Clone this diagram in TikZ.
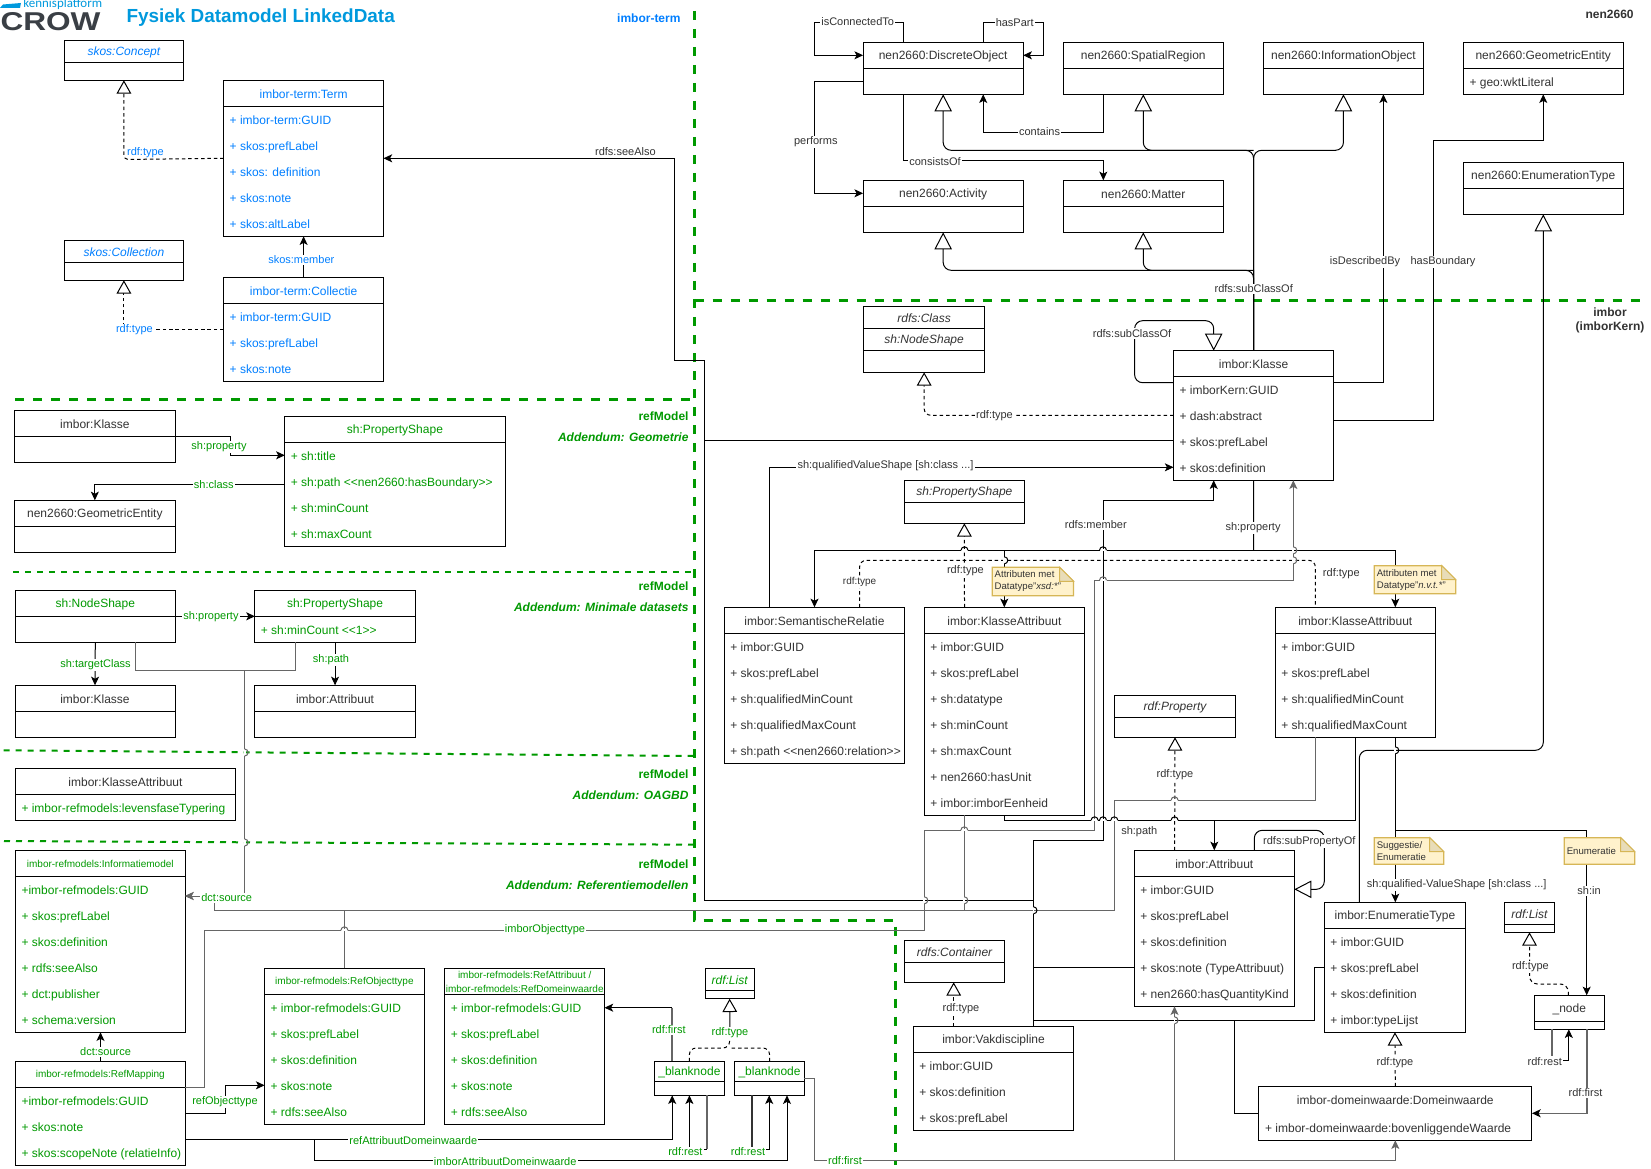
\documentclass[tikz,border=0pt]{standalone}
\usepackage{fontspec}
\usepackage{graphicx}
\setmainfont{Liberation Sans}
\newfontfamily\logofont{Carlito}
\usetikzlibrary{arrows.meta}
\definecolor{tekst}{HTML}{333333}
\definecolor{termblauw}{HTML}{007FFF}
\definecolor{titelblauw}{HTML}{0099DD}
\definecolor{groenkleur}{HTML}{009900}
\definecolor{grijs}{HTML}{666666}
\definecolor{logogrijs}{HTML}{3A3F45}
\definecolor{notevul}{HTML}{FFF2CC}
\definecolor{noterand}{HTML}{D6B656}
\definecolor{notevouw}{HTML}{E8DCB8}
\newcommand{\kleinref}{\fontsize{7.5pt}{9pt}\selectfont}
\tikzset{
  umlbox/.style={draw=black, fill=white, line width=0.75pt, inner sep=0pt, outer sep=0pt},
  kop/.style={font=\fontsize{9pt}{11pt}\selectfont, align=center, inner sep=0pt, yshift=-0.5pt},
  rij/.style={font=\fontsize{9pt}{11pt}\selectfont, anchor=west, inner sep=0pt, text height=7pt, text depth=2pt, yshift=-1.1pt},
  zwart/.style={text=tekst},
  blauw/.style={text=termblauw},
  groen/.style={text=groenkleur},
  lab/.style={font=\fontsize{8.25pt}{10pt}\selectfont, fill=white, inner sep=0.8pt, text=tekst, yshift=-0.3pt},
  labblauw/.style={lab, text=termblauw},
  labgroen/.style={lab, text=groenkleur},
  regio/.style={font=\fontsize{9pt}{11pt}\selectfont\bfseries, text=groenkleur, anchor=east, inner sep=0pt, yshift=-0.7pt},
  pijl/.style={-{Stealth[length=6.5pt,width=6pt,inset=1.6pt]}},
  pijlzwart/.style={-{Stealth[length=6.5pt,width=6pt,inset=1.6pt,color=black]}},
  erf/.style={-{Triangle[open,length=12.75pt,width=13pt,fill=white]}},
  erfk/.style={-{Triangle[open,length=10pt,width=11pt,fill=white]}},
  stip/.style={dashed, dash pattern=on 2.6pt off 2.2pt},
  grijslijn/.style={draw=grijs},
  grijsdik/.style={draw=grijs, line width=1.2pt},
  scheiding/.style={draw=groenkleur, line width=2.25pt, dash pattern=on 6.75pt off 6.75pt},
  scheidingdun/.style={draw=groenkleur, line width=1.5pt, dash pattern=on 4.5pt off 4.5pt}
}
% box met kop en rijen: stijl, naam, x1, y1, x2, y2, kopregel, titel, rijen
\newcommand{\klasse}[9][zwart]{%
  \pgfmathsetmacro{\cx}{(#3+#5)/2}%
  \pgfmathsetmacro{\cy}{(#4+#6)/2}%
  \pgfmathsetmacro{\ty}{(#4+#7)/2}%
  \node[umlbox, minimum width={(#5-#3)*0.75pt}, minimum height={(#6-#4)*0.75pt}] (#2) at (\cx,\cy) {};
  \draw (#2.west |- 0,#7) -- (#2.east |- 0,#7);
  \node[kop,#1] (#2-kop) at (\cx,\ty) {#8};
  \def\rijen{#9}\ifx\rijen\empty\else
  \foreach \rt [count=\ri] in {#9} {
    \pgfmathsetmacro{\ry}{#7+13+26*(\ri-1)}
    \node[rij,#1] (#2-r\ri) at (#3+5.5,\ry) {\rt};
  }\fi
}
% notitie met omgevouwen hoek
\newcommand{\notitie}[6]{%
  \draw[fill=notevul, draw=noterand, line width=0.9pt] (#2,#3) -- (#4-14,#3) -- (#4,#3+14) -- (#4,#5) -- (#2,#5) -- cycle;
  \draw[fill=notevouw, draw=noterand, line width=0.75pt] (#4-14,#3) -- (#4-14,#3+14) -- (#4,#3+14) -- cycle;
  \node[font=\fontsize{7.2pt}{9pt}\selectfont, text=tekst, align=left, anchor=west, inner sep=0pt] (#1) at (#2+2,{(#3+#5)/2}) {#6};
}
% sprongetjes over kruisende lijnen
\newcommand{\hoph}[3][black]{%
  \draw[white, line width=1.4pt] (#2-3.5,#3) -- (#2+3.5,#3);
  \draw[#1] (#2-3.5,#3) arc[start angle=180, end angle=360, radius=3.5];
}
\newcommand{\hopv}[3][black]{%
  \draw[white, line width=1.4pt] (#2,#3-3.5) -- (#2,#3+3.5);
  \draw[#1] (#2,#3-3.5) arc[start angle=-90, end angle=90, radius=3.5];
}
\begin{document}
\begin{tikzpicture}[x=0.75pt, y=-0.75pt, line width=0.75pt]
  \useasboundingbox[fill=white] (0,0) rectangle (1651,1169);

  % logo en titel
  \fill[titelblauw] (0,8) -- (3,4.5) -- (21,3) -- (20,8) -- cycle;
  \node[font=\logofont\fontsize{9.7pt}{10pt}\selectfont, text=titelblauw, inner sep=0pt, anchor=west] (logotekst) at (23,4.5) {kennisplatform};
  \node[text=logogrijs, inner sep=0pt, anchor=west] (logo) at (0,21.5) {\resizebox{100\dimexpr0.75pt\relax}{18\dimexpr0.75pt\relax}{\bfseries CROW}};
  \node[font=\fontsize{14.2pt}{16pt}\selectfont\bfseries, text=titelblauw, anchor=west, inner sep=0pt] (titel) at (126,17.5) {Fysiek Datamodel LinkedData};

  % groene scheidingen
  \draw[scheiding] (694.6,11) -- (694.6,920) -- (895,920) -- (895,1165);
  \draw[scheiding] (15,399) -- (694.6,399);
  \draw[scheiding] (694.6,300.3) -- (1645,300.3);
  \draw[scheidingdun] (13.4,572.3) -- (694.6,572.3);
  \draw[scheidingdun] (3.6,750.3) -- (694.6,756);
  \draw[scheidingdun] (4,841) -- (694.6,844.7);

  % imbor-term
  \klasse[blauw]{concept}{64.3}{40.3}{183.5}{80.3}{62.3}{\itshape skos:Concept}{}
  \klasse[blauw]{term}{223.7}{80.3}{383.5}{236.3}{106.3}{imbor-term:Term}{+ imbor-term:GUID, + skos:prefLabel, + skos: definition, + skos:note, + skos:altLabel}
  \klasse[blauw]{collection}{64.3}{240.3}{183.5}{280.3}{262.3}{\itshape skos:Collection}{}
  \klasse[blauw]{collectie}{223.7}{277.3}{383.5}{381.3}{303.3}{imbor-term:Collectie}{+ imbor-term:GUID, + skos:prefLabel, + skos:note}

  % addendum geometrie
  \klasse{klasseg}{14.7}{410.7}{175}{462.3}{436.3}{imbor:Klasse}{}
  \klasse[groen]{propg}{284.8}{416.3}{505}{546.3}{442.3}{sh:PropertyShape}{+ sh:title, + sh:path <{}<nen2660:hasBoundary>{}>, + sh:minCount, + sh:maxCount}
  \klasse{geog}{14.7}{500.3}{175}{552.3}{526.3}{nen2660:GeometricEntity}{}

  % addendum minimale datasets
  \klasse[groen]{nodem}{15.6}{590.3}{175}{642.3}{616.3}{sh:NodeShape}{}
  \klasse[groen]{propm}{254.9}{590.3}{415.2}{642.3}{616.3}{sh:PropertyShape}{+ sh:minCount <{}<1>{}>}
  \klasse{klassem}{15}{685.3}{175}{737.3}{711.3}{imbor:Klasse}{}
  \klasse{attrm}{254.9}{685.3}{415.2}{737.3}{711.3}{imbor:Attribuut}{}

  % addendum OAGBD
  \klasse[groen]{klasseo}{15.5}{768.3}{235.4}{820.3}{794.3}{\textcolor{tekst}{imbor:KlasseAttribuut}}{+ imbor-refmodels:levensfaseTypering}

  % addendum referentiemodellen
  \klasse[groen]{infomodel}{15.5}{850.3}{185}{1032.3}{876.3}{\kleinref imbor-refmodels:Informatiemodel}{+imbor-refmodels:GUID, + skos:prefLabel, + skos:definition, + rdfs:seeAlso, + dct:publisher, + schema:version}
  \klasse[groen]{mapping}{15.5}{1061.3}{185}{1165.3}{1087.3}{\kleinref imbor-refmodels:RefMapping}{+imbor-refmodels:GUID, + skos:note, + skos:scopeNote (relatieInfo)}
  \klasse[groen]{refobj}{264.6}{968.3}{424.2}{1124.3}{994.3}{\kleinref imbor-refmodels:RefObjecttype}{+ imbor-refmodels:GUID, + skos:prefLabel, + skos:definition, + skos:note, + rdfs:seeAlso}
  \klasse[groen]{refattr}{444.9}{968.3}{604.5}{1124.3}{994.3}{\kleinref imbor-refmodels:RefAttribuut /\\\kleinref imbor-refmodels:RefDomeinwaarde}{+ imbor-refmodels:GUID, + skos:prefLabel, + skos:definition, + skos:note, + rdfs:seeAlso}
  \klasse[groen]{listg}{705}{968.3}{754.3}{998.7}{990.3}{\itshape rdf:List}{}
  \klasse[groen]{blank1}{654.4}{1061.3}{724.4}{1095.3}{1081.7}{\_blanknode}{}
  \klasse[groen]{blank2}{734.8}{1061.3}{804.3}{1095.3}{1081.7}{\_blanknode}{}

  % nen2660
  \klasse{discr}{863.1}{42.3}{1023.2}{94.3}{68.3}{nen2660:DiscreteObject}{}
  \klasse{spatial}{1063.2}{42.3}{1223.3}{94.3}{68.3}{nen2660:SpatialRegion}{}
  \klasse{inform}{1263.4}{42.3}{1423.5}{94.3}{68.3}{nen2660:InformationObject}{}
  \klasse{geom}{1463.5}{42.3}{1623}{94.3}{68.3}{nen2660:GeometricEntity}{+ geo:wktLiteral}
  \klasse{enumtype}{1463.5}{162.3}{1623}{214.3}{188.3}{nen2660:EnumerationType}{}
  \klasse{activity}{863.1}{180.3}{1023.2}{232.3}{206.3}{nen2660:Activity}{}
  \klasse{matter}{1063.2}{180.3}{1223.3}{232.3}{206.3}{nen2660:Matter}{}

  % imborKern
  \klasse{rdfsclass}{863.7}{306.3}{984.6}{372.3}{328.3}{\itshape rdfs:Class}{}
  \draw (rdfsclass.west |- 0,350.3) -- (rdfsclass.east |- 0,350.3);
  \node[kop, zwart] (rdfsclass-kop2) at (924.1,339.3) {\itshape sh:NodeShape};
  \klasse{klasse}{1173.5}{350.7}{1333.7}{480.3}{376.3}{imbor:Klasse}{+ imborKern:GUID, + dash:abstract, + skos:prefLabel, + skos:definition}
  \klasse{propshape}{904.3}{480.3}{1024.4}{523.3}{502.3}{\itshape sh:PropertyShape}{}
  \klasse{semrel}{724.3}{607.3}{904.6}{763.3}{633.3}{imbor:SemantischeRelatie}{+ imbor:GUID, + skos:prefLabel, + sh:qualifiedMinCount, + sh:qualifiedMaxCount, + sh:path <{}<nen2660:relation>{}>}
  \klasse{ka}{924.3}{607.3}{1084.6}{815.3}{633.3}{imbor:KlasseAttribuut}{+ imbor:GUID, + skos:prefLabel, + sh:datatype, + sh:minCount, + sh:maxCount, + nen2660:hasUnit, + imbor:imborEenheid}
  \klasse{kb}{1275.3}{607.3}{1435.3}{737.3}{633.3}{imbor:KlasseAttribuut}{+ imbor:GUID, + skos:prefLabel, + sh:qualifiedMinCount, + sh:qualifiedMaxCount}
  \klasse{rdfprop}{1114.3}{695.3}{1235.7}{737.3}{717.3}{\itshape rdf:Property}{}
  \klasse{attr}{1134.3}{850.3}{1294.3}{1006.3}{876.3}{imbor:Attribuut}{+ imbor:GUID, + skos:prefLabel, + skos:definition, + skos:note (TypeAttribuut), + nen2660:hasQuantityKind}
  \klasse{enumt}{1324.4}{902.3}{1465.5}{1032.3}{928.3}{imbor:EnumeratieType}{+ imbor:GUID, + skos:prefLabel, + skos:definition, + imbor:typeLijst}
  \klasse{rdflist}{1504.4}{902.3}{1554.5}{932.3}{924.3}{\itshape rdf:List}{}
  \klasse{bnode}{1534.4}{995.3}{1604.2}{1029.3}{1021.3}{\_node}{}
  \klasse{container}{904.6}{940.3}{1004.4}{982.3}{962.3}{\itshape rdfs:Container}{}
  \klasse{vak}{913.4}{1026.3}{1073.7}{1130.3}{1052.3}{imbor:Vakdiscipline}{+ imbor:GUID, + skos:definition, + skos:prefLabel}
  % domeinwaarde heeft geen kopregel
  \node[umlbox, minimum width=205pt, minimum height=40.5pt] (domein) at (1395.3,1113.3) {};
  \node[kop, zwart] (domein-kop) at (1395.3,1099.7) {imbor-domeinwaarde:Domeinwaarde};
  \node[rij, zwart] (domein-r1) at (1264.6,1127.7) {+ imbor-domeinwaarde:bovenliggendeWaarde};

  % verbindingen imbor-term
  \draw[erfk, stip, rounded corners=3pt] (term.west |- 0,158.3) -- (124,159.5) -- (concept.south);
  \draw[erfk, stip] (collectie.west |- 0,329.3) -| (collection.south);
  \draw[pijl] (collectie.north) -- (term.south);
  \coordinate (busl) at (704.7,440.3);
  \coordinate (busb) at (1033.5,900.3);
  \draw[pijl] (busl) -- (704.7,360.3) -| (674.6,158.3) -- (term.east |- 0,158.3);
  \draw (klasse.west |- busl) -- (busl) |- (busb);

  % verbindingen geometrie en minimale datasets
  \draw[pijl] (klasseg.east |- 0,436.3) -| (230,455.3) -- (propg.west |- 0,455.3);
  \draw[pijl] (propg.west |- 0,484.3) -| (geog.north);
  \draw[pijl] (nodem.east |- 0,616.3) -- (propm.west |- 0,616.3);
  \draw[pijl] (nodem.south) -- (klassem.north);
  \draw[pijl] (propm.south) -- (attrm.north);
  \draw[grijslijn] (nodem.south -| 135.3,0) |- (295,670.3) -- (propm.south -| 295,0);
  \draw[grijslijn, pijl] (244.6,670.3) -- (244.6,896) -- (infomodel.east |- 0,896);

  % verbindingen referentiemodellen
  \draw[pijl] (mapping.north -| 100.5,0) -- (infomodel.south -| 100.5,0);
  \draw[pijl] (mapping.east |- 0,1113.3) -| (225,1085.3) -- (refobj.west |- 0,1085.3);
  \draw[pijl] (mapping.east |- 0,1139.3) -| (blank1.south -| 672.2,0);
  \draw[pijl] (314.6,1139.3) |- (787,1160.3) -- (blank2.south -| 787,0);
  \draw[grijsdik] (blank1.north -| 672.2,0) -- (672.2,1007.7);
  \draw[pijl] (672.2,1007.7) -- (refattr.east |- 0,1007.7);
  \draw[erfk] (730,1032) -- (listg.south -| 729.6,0);
  \draw[stip, rounded corners=5pt] (blank1.north) |- (729.6,1048) -- (729.6,1032);
  \draw[stip, rounded corners=5pt] (blank2.north) |- (729.6,1048);
  \draw[grijsdik] (blank1.south -| 706.7,0) -- (706.7,1149);
  \draw[pijl] (706.7,1149) -| (blank1.south -| 689.4,0);
  \draw[line width=1.2pt, draw=tekst] (blank2.south -| 752,0) -- (752,1149);
  \draw[pijl] (752,1149) -| (blank2.south -| 769.2,0);

  % verbindingen nen2660
  \draw[pijl] (discr.north -| 903.2,0) |- (814.6,22.7) |- (discr.west |- 0,55.3);
  \draw[pijl] (discr.north -| 983.2,0) |- (1043.2,22.7) |- (discr.east |- 0,55.3);
  \draw[pijl] (discr.west |- 0,81.3) -| (814.6,193.3) -- (activity.west |- 0,193.3);
  \draw[pijl] (spatial.south -| 1103.3,0) |- (983.2,132.3) -- (discr.south -| 983.2,0);
  \draw[pijl] (discr.south -| 903.2,0) |- (1103.3,160.3) -- (matter.north -| 1103.3,0);
  \draw (klasse.north) -- (1253.6,270);
  \draw[erf, rounded corners=6pt] (klasse.north) -- (1253.6,150.3) -| (discr.south);
  \draw[erf, rounded corners=6pt] (1253.6,150.3) -| (spatial.south);
  \draw[erf, rounded corners=6pt] (klasse.north) -- (1253.6,150.3) -| (inform.south);
  \draw[erf, rounded corners=6pt] (klasse.north) -- (1253.6,270.3) -| (activity.south);
  \draw[erf, rounded corners=6pt] (1253.6,270.3) -| (matter.south);
  \draw[pijl] (klasse.east |- 0,382.7) -| (inform.south -| 1383.4,0);
  \draw[pijl] (klasse.east |- 0,420.3) -| (1433.3,140.3) -| (geom.south);
  \draw[erf, rounded corners=6pt] (enumt.north -| 1359.3,0) |- (1543.3,750.3) -- (enumtype.south);

  % verbindingen imborKern
  \draw[erf, rounded corners=6pt] (klasse.west |- 0,382.7) -| (1134.6,320.7) -| (klasse.north -| 1213.7,0);
  \draw[erfk, stip, rounded corners=5pt] (klasse.west |- 0,415.3) -| (rdfsclass.south);
  \draw[pijl] (semrel.north -| 769.5,0) |- (klasse.west |- 0,467.3);
  \draw[pijl] (busb |- 0,1020.3) -- (1033.5,840.3) -- (1103,840.3) -- (1103,500.3) -| (klasse.south -| 1213.7,0);
  \draw (klasse.south) -- (1253.6,550.3);
  \draw[pijl] (1253.6,550.3) -| (semrel.north -| 814.5,0);
  \draw[pijl] (1004.3,550.3) -- (ka.north -| 1004.3,0);
  \draw[pijl] (1253.6,550.3) -| (kb.north -| 1395.3,0);
  \draw[erfk, stip] (ka.north -| 964.5,0) -- (propshape.south);
  \draw[stip, rounded corners=5pt] (semrel.north -| 859.6,0) |- (1315.3,560.3) -- (kb.north -| 1315.3,0);

  % grijze lijnen
  \draw[grijslijn, pijl] (mapping.east |- 0,1087.3) -| (204.4,930.3) -- (924.3,930.3) -- (924.3,830.3) -- (1094.6,830.3) -- (1094.6,580.3) -- (1293.3,580.3) -- (klasse.south -| 1293.3,0);
  \draw[grijslijn, pijl] (kb.south -| 1315.3,0) |- (1114.3,800.3) |- (214.7,910.3) -- (214.7,896) -- (infomodel.east |- 0,896);
  \draw[grijslijn] (ka.south -| 964.3,0) -- (964.3,910.3);
  \draw[grijslijn] (refobj.north) -- (344.4,910.3);
  \draw[grijslijn, pijl] (blank2.east |- 0,1078.3) -| (814.6,1160.3) -| (domein.south);
  \draw[grijslijn, pijl] (1174.5,1160.3) -- (attr.south -| 1174.5,0);

  % verbindingen attribuut
  \draw (ka.south) |- (1355.7,820.3) -- (kb.south -| 1355.7,0);
  \draw[pijl] (1214.3,820.3) -- (attr.north -| 1214.3,0);
  \draw[erfk, stip] (attr.north -| 1174.6,0) -- (rdfprop.south);
  \draw[erf, rounded corners=6pt] (attr.north -| 1254.3,0) |- (1324.3,830.3) |- (attr.east |- 0,889.3);
  \draw[pijl] (kb.south -| 1395.3,0) -- (enumt.north -| 1395.3,0);
  \draw[pijl] (1395.3,830.3) -| (bnode.north -| 1586.7,0);
  \draw (1033.5,967.3) -- (attr.west |- 0,967.3);
  \draw[line width=1.1pt] (1033.5,840.3) -- (1033.5,1020.3);
  \draw[line width=1.1pt] (1033.5,1020.3) -- (1100,1020.3);
  \draw (1100,1020.3) -| (1314.6,967.3) -- (enumt.west |- 0,967.3);
  \draw (1033.5,1020.3) -- (vak.north -| 1033.5,0);
  \draw (1234.5,1020.3) |- (domein.west |- 0,1113.3);
  \draw[erfk, stip] (vak.north -| 953.7,0) -- (container.south -| 953.7,0);
  \draw[erfk, stip] (domein.north) -- (enumt.south);
  \draw[erfk, stip, rounded corners=6pt] (bnode.north -| 1568.3,0) |- (1529.5,984) -- (rdflist.south -| 1529.5,0);
  \draw[grijsdik] (bnode.south -| 1552,0) -- (1552,1060.7);
  \draw[pijl] (1552,1060.7) -| (bnode.south -| 1568.8,0);
  \draw[grijsdik, pijlzwart] (bnode.south -| 1587,0) |- (domein.east |- 0,1113.3);

  % sprongen
  \hoph{964.5}{550.3}
  \hoph{1103}{550.3}
  \hoph[grijs]{1103}{580.3}
  \hoph{1094.6}{820.3}
  \hoph{1103}{820.3}
  \hoph{1114.3}{820.3}
  \hoph{1174.6}{820.3}
  \hoph[grijs]{1174.6}{800.3}
  \hoph[grijs]{964.3}{830.3}
  \hoph[grijs]{344.4}{930.3}
  \hopv{1395.3}{750.3}
  \hopv[grijs]{1293.3}{550.3}
  \hopv[grijs]{1293.3}{560.3}
  \hopv{1004.3}{560.3}
  \hopv[grijs]{924.3}{900.3}
  \hopv[grijs]{964.3}{900.3}
  \hopv{1033.5}{910.3}
  \hopv[grijs]{1174.5}{1020.3}
  \hopv[grijs]{244.6}{752.5}
  \hopv[grijs]{244.6}{842.5}

  % notities
  \notitie{noteA}{992.2}{567.3}{1073.5}{595.7}{Attributen met\\Datatype"\textit{xsd:*}"}
  \notitie{noteB}{1374.3}{565.7}{1455.7}{593.7}{Attributen met\\Datatype"\textit{n.v.t.*}"}
  \notitie{noteC}{1374.3}{837.7}{1443.7}{864.3}{Suggestie/\\Enumeratie}
  \notitie{noteD}{1564.3}{837.7}{1634.7}{864.3}{Enumeratie}

  % gebiedsnamen
  \node[font=\fontsize{9pt}{11pt}\selectfont\bfseries, text=termblauw, inner sep=0pt, anchor=east] (gebterm) at (681,18) {imbor-term};
  \node[font=\fontsize{9pt}{11pt}\selectfont\bfseries, text=tekst, inner sep=0pt] (gebnen) at (1609.6,14.5) {nen2660};
  \node[font=\fontsize{9pt}{10.5pt}\selectfont\bfseries, text=tekst, align=center, inner sep=0pt] (gebimbor) at (1610,320) {imbor\\(imborKern)};
  \node[regio] (refa) at (689,415.7) {refModel};
  \node[regio] (adda) at (689,436.7) {\itshape Addendum: Geometrie};
  \node[regio] (refb) at (689,585.7) {refModel};
  \node[regio] (addb) at (689,606.7) {\itshape Addendum: Minimale datasets};
  \node[regio] (refc) at (689,773.7) {refModel};
  \node[regio] (addc) at (689,794.7) {\itshape Addendum: OAGBD};
  \node[regio] (refd) at (689,863.7) {refModel};
  \node[regio] (addd) at (689,884.7) {\itshape Addendum: Referentiemodellen};

  % labels
  \node[labblauw, fill=none] (l1) at (145.5,152.3) {rdf:type};
  \node[labblauw] (l2) at (134.4,329.3) {rdf:type};
  \node[labblauw] (l3) at (301.3,259.3) {skos:member};
  \node[lab, fill=none] (l4) at (625.4,151.3) {rdfs:seeAlso};
  \node[labgroen] (l5) at (219,446.7) {sh:property};
  \node[labgroen] (l6) at (213.8,484.3) {sh:class};
  \node[labgroen] (l7) at (211,616.3) {sh:property};
  \node[labgroen] (l8) at (95.5,664.3) {sh:targetClass};
  \node[labgroen] (l9) at (331,659.3) {sh:path};
  \node[labgroen] (l10) at (226.7,897.3) {dct:source};
  \node[labgroen] (l11) at (105.6,1051.3) {dct:source};
  \node[labgroen] (l12) at (545,929.3) {imborObjecttype};
  \node[labgroen] (l13) at (225,1101.3) {refObjecttype};
  \node[labgroen] (l14) at (413.3,1140) {refAttribuutDomeinwaarde};
  \node[labgroen] (l15) at (505.2,1161) {imborAttribuutDomeinwaarde};
  \node[labgroen] (l16) at (668.8,1029.3) {rdf:first};
  \node[labgroen] (l17) at (730,1032.3) {rdf:type};
  \node[labgroen] (l18) at (685.4,1151.3) {rdf:rest};
  \node[labgroen] (l19) at (748,1151.3) {rdf:rest};
  \node[labgroen] (l20) at (845,1160.3) {rdf:first};
  \node[lab] (l21) at (857.7,21.3) {isConnectedTo};
  \node[lab] (l22) at (1014.7,22.5) {hasPart};
  \node[lab] (l23) at (815.8,141.3) {performs};
  \node[lab] (l24) at (1039.6,131) {contains};
  \node[lab] (l25) at (935,161) {consistsOf};
  \node[lab] (l26) at (1253.7,288.3) {rdfs:subClassOf};
  \node[lab] (l27) at (1365,261.7) {isDescribedBy};
  \node[lab] (l28) at (1443,261.7) {hasBoundary};
  \node[lab] (l29) at (1132,333) {rdfs:subClassOf};
  \node[lab] (l30) at (994.5,415) {rdf:type};
  \node[lab] (l31) at (885.5,465.7) {sh:qualifiedValueShape [sh:class ...]};
  \node[lab] (l32) at (1095.8,524.3) {rdfs:member};
  \node[lab] (l33) at (1253,527.3) {sh:property};
  \node[lab, font=\fontsize{7.5pt}{9pt}\selectfont] (l34) at (859.6,582) {rdf:type};
  \node[lab] (l35) at (965.4,570.3) {rdf:type};
  \node[lab, fill=none] (l36) at (1341.3,573.3) {rdf:type};
  \node[lab, fill=none] (l37) at (1139.3,831.3) {sh:path};
  \node[lab] (l38) at (1175,774.3) {rdf:type};
  \node[lab] (l39) at (1309.3,841) {rdfs:subPropertyOf};
  \node[lab] (l40) at (1456.7,884.3) {sh:qualified-ValueShape [sh:class ...]};
  \node[lab] (l41) at (1589,890.3) {sh:in};
  \node[lab] (l42) at (961,1008.7) {rdf:type};
  \node[lab] (l43) at (1530.4,966.3) {rdf:type};
  \node[lab] (l44) at (1395,1062.3) {rdf:type};
  \node[lab] (l45) at (1544.7,1060.7) {rdf:rest};
  \node[lab] (l46) at (1585.5,1092.3) {rdf:first};
\end{tikzpicture}
\end{document}
